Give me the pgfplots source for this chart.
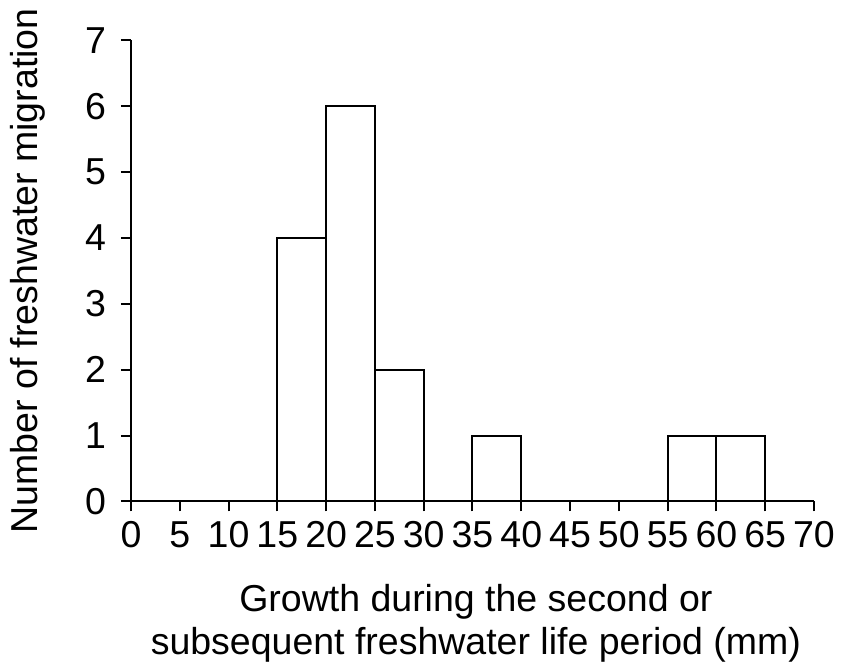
\documentclass[border=0pt]{standalone}
\usepackage{pgfplots}
\pgfplotsset{compat=1.18}
\usepackage{fontspec}
\setmainfont{Liberation Sans}
\begin{document}
\begin{tikzpicture}
\begin{axis}[
  scale only axis,
  width=273.2pt, height=184.4pt,
  xmin=0, xmax=70, ymin=0, ymax=7,
  axis x line*=bottom, axis y line*=left,
  axis line style={-, line width=0.8pt},
  every tick/.style={black, line width=0.8pt},
  major tick length=4pt,
  tick align=outside,
  xtick={0,5,...,70}, ytick={0,1,...,7},
  /pgf/number format/assume math mode=true,
  tick label style={font=\fontsize{15}{17.2}\selectfont},
  xticklabel style={yshift=-0.5pt},
  yticklabel style={xshift=-2.5pt},
  label style={font=\fontsize{15}{17.2}\selectfont},
  xlabel={Growth during the second or\\subsequent freshwater life period (mm)},
  xlabel style={align=center, at={(rel axis cs:0.505,-0.2646)}, anchor=center},
  ylabel={Number of freshwater migration},
  ylabel style={at={(rel axis cs:-0.1508,0.5)}, anchor=center},
  clip=false,
]
\addplot[ybar interval, fill=white, draw=black, line width=0.8pt] coordinates {(15,4) (20,6) (25,2) (30,0)};
\addplot[ybar interval, fill=white, draw=black, line width=0.8pt] coordinates {(35,1) (40,0)};
\addplot[ybar interval, fill=white, draw=black, line width=0.8pt] coordinates {(55,1) (60,1) (65,0)};
\path (rel axis cs:-0.1918,-0.3644) rectangle (rel axis cs:1.0469,1.0759);
\end{axis}
\end{tikzpicture}
\end{document}
